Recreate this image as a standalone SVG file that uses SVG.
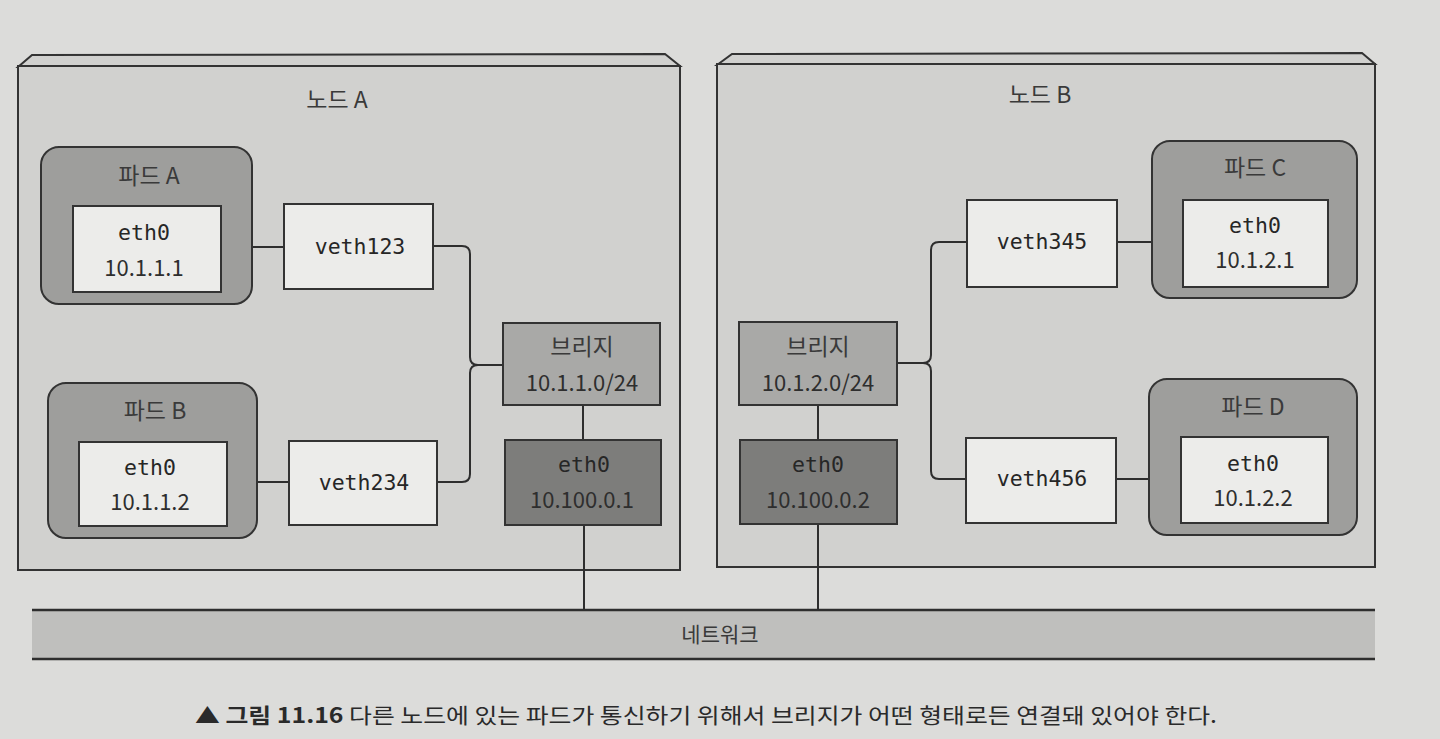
<svg xmlns="http://www.w3.org/2000/svg" width="1440" height="739" viewBox="0 0 1440 739">
<style>
.node{fill:#d1d1cf;stroke:#333;stroke-width:2}
.pod{fill:#9e9e9c;stroke:#333;stroke-width:2}
.box{fill:#ececea;stroke:#333;stroke-width:2}
.bridge{fill:#a9a9a7;stroke:#333;stroke-width:2}
.nic{fill:#7d7d7b;stroke:#333;stroke-width:2}
.wire{fill:none;stroke:#2e2e2e;stroke-width:2}
.kr{font-family:"Noto Sans CJK KR","Noto Sans",sans-serif;font-size:23px;fill:#3a3a3a;text-anchor:middle}
.ip{font-family:"Noto Sans CJK KR","Noto Sans",sans-serif;font-size:22px;fill:#2e2e2e;text-anchor:middle}
.mono{font-family:"DejaVu Sans Mono","Liberation Mono",monospace;font-size:21.5px;fill:#262626;text-anchor:middle}
.cap{font-family:"Noto Sans CJK KR","Noto Sans",sans-serif;font-size:21px;fill:#2a2a2a}
</style>
<rect x="0" y="0" width="1440" height="739" fill="#dcdcda"/>

<g id="nodeA">
<polygon class="node" points="18,67 32,55 665,54 680,66"/>
<rect class="node" x="18" y="66" width="662" height="504"/>
<text class="kr" x="337" y="108">노드 A</text>
</g>
<g id="nodeB">
<polygon class="node" points="717,65 732,54 1362,53 1375,64"/>
<rect class="node" x="717" y="64" width="658" height="503"/>
<text class="kr" x="1040" y="103">노드 B</text>
</g>

<g id="network">
<rect x="32" y="610" width="1343" height="49" fill="#bfbfbd"/>
<line x1="32" y1="610" x2="1375" y2="610" stroke="#2e2e2e" stroke-width="2.5"/>
<line x1="32" y1="659" x2="1375" y2="659" stroke="#2e2e2e" stroke-width="2.5"/>
<text class="kr" x="720" y="642" style="font-size:21px">네트워크</text>
</g>

<g id="connectors">
<path class="wire" d="M221,247 H284"/>
<path class="wire" d="M227,482 H289"/>
<path class="wire" d="M433,246 H462 Q470,246 470,254 V357 Q470,365 478,365 H503"/>
<path class="wire" d="M437,482 H462 Q470,482 470,474 V373 Q470,365 478,365"/>
<path class="wire" d="M583,405 V440"/>
<path class="wire" d="M584,525 V610"/>
<path class="wire" d="M1117,242 H1183"/>
<path class="wire" d="M1116,479 H1181"/>
<path class="wire" d="M967,242 H939 Q931,242 931,250 V355 Q931,363 923,363 H897"/>
<path class="wire" d="M966,479 H939 Q931,479 931,471 V371 Q931,363 923,363"/>
<path class="wire" d="M818,405 V440"/>
<path class="wire" d="M818,524 V610"/>
</g>

<g id="podA">
<rect class="pod" x="41" y="147" width="211" height="157" rx="18"/>
<text class="kr" x="149" y="184">파드 A</text>
</g>
<g id="eth0A">
<rect class="box" x="73" y="206" width="148" height="86"/>
<text class="mono" x="144" y="240">eth0</text>
<text class="ip" x="144" y="276">10.1.1.1</text>
</g>
<g id="veth123">
<rect class="box" x="284" y="204" width="149" height="85"/>
<text class="mono" x="360" y="254">veth123</text>
</g>

<g id="podB">
<rect class="pod" x="48" y="383" width="209" height="155" rx="18"/>
<text class="kr" x="155" y="419">파드 B</text>
</g>
<g id="eth0B">
<rect class="box" x="79" y="442" width="148" height="84"/>
<text class="mono" x="150" y="475">eth0</text>
<text class="ip" x="150" y="510">10.1.1.2</text>
</g>
<g id="veth234">
<rect class="box" x="289" y="441" width="148" height="84"/>
<text class="mono" x="364" y="490">veth234</text>
</g>

<g id="bridgeA">
<rect class="bridge" x="503" y="323" width="157" height="82"/>
<text class="kr" x="582" y="355">브리지</text>
<text class="ip" x="582" y="391">10.1.1.0/24</text>
</g>
<g id="nicA">
<rect class="nic" x="505" y="440" width="156" height="85"/>
<text class="mono" x="584" y="472">eth0</text>
<text class="ip" x="582" y="508">10.100.0.1</text>
</g>

<g id="bridgeB">
<rect class="bridge" x="739" y="322" width="158" height="83"/>
<text class="kr" x="818" y="355">브리지</text>
<text class="ip" x="818" y="391">10.1.2.0/24</text>
</g>
<g id="nicB">
<rect class="nic" x="740" y="440" width="157" height="84"/>
<text class="mono" x="818" y="472">eth0</text>
<text class="ip" x="818" y="508">10.100.0.2</text>
</g>

<g id="veth345">
<rect class="box" x="967" y="200" width="150" height="87"/>
<text class="mono" x="1042" y="249">veth345</text>
</g>
<g id="podC">
<rect class="pod" x="1152" y="141" width="205" height="157" rx="18"/>
<text class="kr" x="1255" y="176">파드 C</text>
</g>
<g id="eth0C">
<rect class="box" x="1183" y="200" width="145" height="87"/>
<text class="mono" x="1255" y="233">eth0</text>
<text class="ip" x="1255" y="268">10.1.2.1</text>
</g>

<g id="veth456">
<rect class="box" x="966" y="438" width="150" height="85"/>
<text class="mono" x="1042" y="486">veth456</text>
</g>
<g id="podD">
<rect class="pod" x="1149" y="379" width="208" height="156" rx="18"/>
<text class="kr" x="1253" y="415">파드 D</text>
</g>
<g id="eth0D">
<rect class="box" x="1181" y="437" width="147" height="86"/>
<text class="mono" x="1253" y="471">eth0</text>
<text class="ip" x="1253" y="506">10.1.2.2</text>
</g>

<g id="caption">
<text class="cap" x="195" y="723" textLength="1022" lengthAdjust="spacingAndGlyphs"><tspan font-weight="bold">▲ 그림 11.16</tspan> 다른 노드에 있는 파드가 통신하기 위해서 브리지가 어떤 형태로든 연결돼 있어야 한다.</text>
</g>
</svg>
